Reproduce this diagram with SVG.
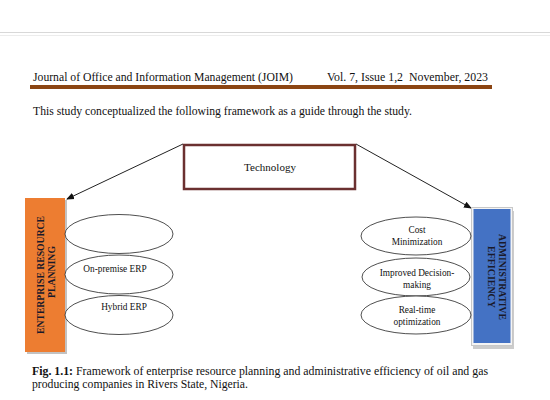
<svg xmlns="http://www.w3.org/2000/svg" width="550" height="400" viewBox="0 0 550 400">
<defs>
<style>
.t{font-family:"Liberation Serif","Times New Roman",serif;fill:#111}
.e{fill:#fff;stroke:#222;stroke-width:0.8}
.c{stroke:#222;stroke-width:1;fill:none}
.lab{font-size:9.3px;text-anchor:middle}
.v{font-family:"Liberation Serif","Times New Roman",serif;font-weight:bold;font-size:9.5px;text-anchor:middle;fill:#1a1a2a}
</style>
<marker id="ah" markerWidth="8" markerHeight="8" refX="7" refY="4" orient="auto" markerUnits="userSpaceOnUse">
<path d="M0,0.8 L8,4 L0,7.2 Z" fill="#111"/>
</marker>
</defs>
<rect width="550" height="400" fill="#fff"/>
<line x1="0" y1="32.5" x2="550" y2="32.5" stroke="#d8d8d8" stroke-width="1"/>
<line x1="0" y1="35.5" x2="550" y2="35.5" stroke="#ececec" stroke-width="1"/>
<g id="header">
<text class="t" x="33" y="81" font-size="13" textLength="260" lengthAdjust="spacingAndGlyphs">Journal of Office and Information Management (JOIM)</text>
<text class="t" x="327" y="81" font-size="13" textLength="161" lengthAdjust="spacingAndGlyphs">Vol. 7, Issue 1,2&#160; November, 2023</text>
<rect x="30" y="85" width="462" height="4" fill="#8b4513"/>
<text class="t" x="33" y="115" font-size="12.5" textLength="379" lengthAdjust="spacingAndGlyphs">This study conceptualized the following framework as a guide through the study.</text>
</g>
<g id="connectors">
<line class="c" x1="183" y1="144" x2="67" y2="199" marker-end="url(#ah)"/>
<line class="c" x1="356" y1="144" x2="471" y2="208" marker-end="url(#ah)"/>
</g>
<g id="technology">
<rect x="184" y="145" width="171" height="44" fill="#fff" stroke="#6b3030" stroke-width="2.5"/>
<text class="t" x="270" y="171" font-size="11" text-anchor="middle">Technology</text>
</g>
<g id="erp">
<rect x="27" y="200" width="40" height="154" fill="#9a9a9a" opacity="0.6"/>
<rect x="25" y="198" width="40" height="154" fill="#ed7d31"/>
<text class="v" transform="translate(43.5,275) rotate(-90)" textLength="118" lengthAdjust="spacingAndGlyphs">ENTERPRISE RESOURCE</text>
<text class="v" transform="translate(55,272) rotate(-90)" textLength="52" lengthAdjust="spacingAndGlyphs">PLANNING</text>
</g>
<g id="erp-e1"><ellipse class="e" cx="119" cy="234" rx="54" ry="19.5"/></g>
<g id="erp-e2"><ellipse class="e" cx="119" cy="274.5" rx="54" ry="19.5"/>
<text class="t lab" x="115" y="272">On-premise ERP</text></g>
<g id="erp-e3"><ellipse class="e" cx="119" cy="315" rx="54" ry="19.5"/>
<text class="t lab" x="124" y="310">Hybrid ERP</text></g>
<g id="ae">
<rect x="473" y="211" width="41" height="138" fill="#9a9a9a" opacity="0.5"/>
<rect x="471.5" y="207.5" width="41" height="138" fill="#f4f4f4" stroke="#c8c8c8" stroke-width="1"/>
<rect x="473.5" y="209" width="37" height="134" fill="#4472c4"/>
<text class="v" transform="translate(498.5,277) rotate(90)" textLength="86" lengthAdjust="spacingAndGlyphs">ADMINISTRATIVE</text>
<text class="v" transform="translate(488,277) rotate(90)" textLength="62" lengthAdjust="spacingAndGlyphs">EFFICIENCY</text>
</g>
<g id="ae-e1"><ellipse class="e" cx="416" cy="236" rx="55" ry="19"/>
<text class="t lab" x="417" y="233">Cost</text>
<text class="t lab" x="417" y="245">Minimization</text></g>
<g id="ae-e2"><ellipse class="e" cx="416" cy="277" rx="54" ry="19"/>
<text class="t lab" x="417" y="276">Improved Decision-</text>
<text class="t lab" x="417" y="288">making</text></g>
<g id="ae-e3"><ellipse class="e" cx="416" cy="315" rx="55" ry="19"/>
<text class="t lab" x="417" y="313">Real-time</text>
<text class="t lab" x="417" y="325">optimization</text></g>
<g id="caption">
<text class="t" x="32" y="375" font-size="12" textLength="456" lengthAdjust="spacingAndGlyphs"><tspan font-weight="bold">Fig. 1.1:</tspan> Framework of enterprise resource planning and administrative efficiency of oil and gas</text>
<text class="t" x="32" y="388" font-size="12" textLength="216" lengthAdjust="spacingAndGlyphs">producing companies in Rivers State, Nigeria.</text>
</g>
</svg>
